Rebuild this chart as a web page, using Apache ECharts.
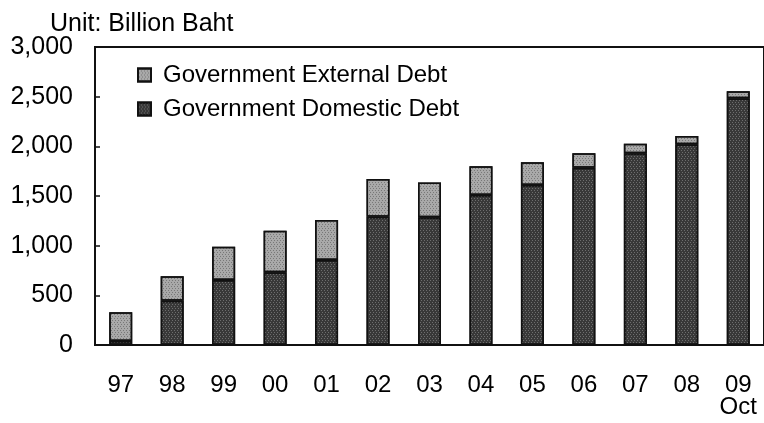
<!DOCTYPE html>
<html>
<head>
<meta charset="utf-8">
<style>
  html, body { margin: 0; padding: 0; background: #fff; }
  #chart { width: 764px; height: 423px; }
</style>
<script src="https://cdn.jsdelivr.net/npm/echarts@6/dist/echarts.min.js"></script>
</head>
<body>
<div id="chart"></div>
<script>
// Thai government debt, billion baht (2009 = end of October)
const years = ['97', '98', '99', '00', '01', '02', '03', '04', '05', '06', '07', '08', '09'];
const yearNotes = { '09': 'Oct' };
const domesticDebt = [40, 446, 655, 732, 856, 1292, 1285, 1510, 1610, 1785, 1930, 2020, 2485];
const externalDebt = [290, 246, 335, 419, 403, 380, 350, 290, 230, 145, 95, 85, 70];
const yTicks = [0, 500, 1000, 1500, 2000, 2500, 3000];

const FONT = '"Liberation Sans", Arial, sans-serif';

const chart = echarts.init(document.getElementById('chart'), null, { renderer: 'canvas' });

// fine dotted texture laid over the bar fills
const stipple = (dotColor) => ({
  symbol: 'rect',
  symbolSize: 1,
  dashArrayX: [[1, 2], [0, 1, 1, 1]],
  dashArrayY: [1, 1],
  color: dotColor
});

chart.setOption({
  animation: false,
  backgroundColor: '#ffffff',
  title: {
    text: 'Unit: Billion Baht',
    left: 50,
    top: 12,
    padding: 0,
    textStyle: { fontFamily: FONT, fontSize: 25, fontWeight: 'normal', color: '#000' }
  },
  legend: {
    orient: 'vertical',
    left: 137,
    top: 63,
    padding: 0,
    itemWidth: 13,
    itemHeight: 13,
    itemGap: 10,
    icon: 'rect',
    data: ['Government External Debt', 'Government Domestic Debt'],
    textStyle: { fontFamily: FONT, fontSize: 24, color: '#000', lineHeight: 24, padding: [0, 0, 0, 7] }
  },
  grid: {
    left: 95,
    right: -9,
    top: 47,
    bottom: 78,
    show: true,
    borderColor: '#111',
    borderWidth: 2,
    containLabel: false
  },
  xAxis: {
    type: 'category',
    data: years,
    boundaryGap: true,
    axisLine: { lineStyle: { color: '#111', width: 2 } },
    axisTick: { inside: true, length: 8, lineStyle: { color: '#111', width: 2 } },
    axisLabel: {
      margin: 29,
      fontFamily: FONT,
      fontSize: 24,
      lineHeight: 22,
      color: '#000',
      formatter: (v) => yearNotes[v] ? v + '\n' + yearNotes[v] : v
    }
  },
  yAxis: {
    type: 'value',
    min: yTicks[0],
    max: yTicks[yTicks.length - 1],
    interval: 500,
    splitLine: { show: false },
    axisLine: { show: true, lineStyle: { color: '#111', width: 2 } },
    axisTick: { show: true, inside: true, length: 5, lineStyle: { color: '#111', width: 1.5 } },
    axisLabel: {
      margin: 22,
      fontFamily: FONT,
      fontSize: 25,
      color: '#000',
      formatter: (v) => v.toLocaleString('en-US')
    }
  },
  series: [
    {
      name: 'Government Domestic Debt',
      type: 'bar',
      stack: 'debt',
      barWidth: 23,
      data: domesticDebt,
      itemStyle: {
        color: '#383838',
        borderColor: '#111',
        borderWidth: 1.5,
        decal: stipple('rgba(190,190,190,0.4)')
      }
    },
    {
      name: 'Government External Debt',
      type: 'bar',
      stack: 'debt',
      barWidth: 23,
      data: externalDebt,
      itemStyle: {
        color: '#a9a9a9',
        borderColor: '#111',
        borderWidth: 1.5,
        decal: stipple('rgba(60,60,60,0.45)')
      }
    }
  ]
});
</script>
</body>
</html>
